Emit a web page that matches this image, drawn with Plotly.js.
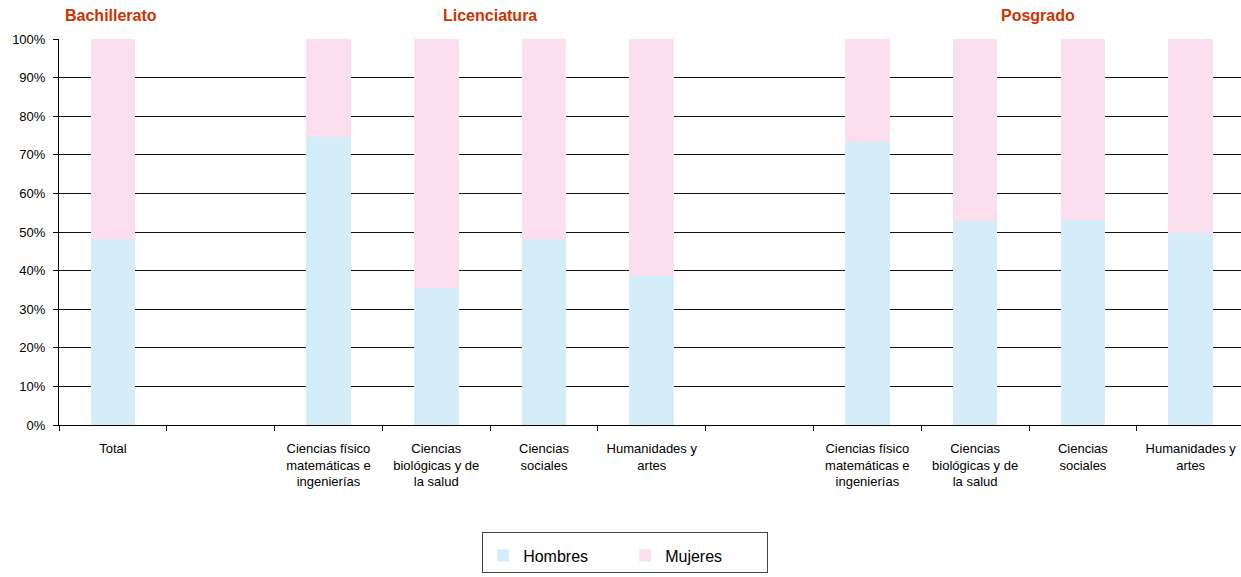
<!DOCTYPE html>
<html>
<head>
<meta charset="utf-8">
<script src="https://cdn.plot.ly/plotly-3.0.1.min.js"></script>
<style>html,body{margin:0;padding:0;background:#fff;}#chart{width:1241px;height:577px;}</style>
</head>
<body>
<div id="chart"></div>
<script>
var categoryIds = ['tot', 'gap1', 'lic_cfm', 'lic_cb', 'lic_cs', 'lic_ha', 'gap2', 'pos_cfm', 'pos_cb', 'pos_cs', 'pos_ha'];
var tickLabels = [
  'Total', '',
  'Ciencias físico<br>matemáticas e<br>ingenierías',
  'Ciencias<br>biológicas y de<br>la salud',
  'Ciencias<br>sociales',
  'Humanidades y<br>artes',
  '',
  'Ciencias físico<br>matemáticas e<br>ingenierías',
  'Ciencias<br>biológicas y de<br>la salud',
  'Ciencias<br>sociales',
  'Humanidades y<br>artes'
];
var hombres = [48.1, null, 74.5, 35.5, 48.3, 38.7, null, 73.3, 52.9, 53.1, 49.8];
var mujeres = [51.9, null, 25.5, 64.5, 51.7, 61.3, null, 26.7, 47.1, 46.9, 50.2];
var groupTitles = ['Bachillerato', 'Licenciatura', 'Posgrado'];
var groupTitlePos = [-0.02, 3.5, 8.58];

var traces = [
  {type: 'bar', name: 'Hombres', x: categoryIds, y: hombres, marker: {color: '#D5EDF9'}, hoverinfo: 'y+name'},
  {type: 'bar', name: 'Mujeres', x: categoryIds, y: mujeres, marker: {color: '#FCDFEE'}, hoverinfo: 'y+name'}
];

var annotations = groupTitles.map(function (t, i) {
  return {
    text: '<b>' + t + '</b>', x: groupTitlePos[i], xref: 'x', y: 1, yref: 'paper',
    yshift: 24, yanchor: 'middle', xanchor: 'center', showarrow: false,
    font: {family: 'Liberation Sans, Arial, sans-serif', size: 16, color: '#CC3300'}
  };
});

var layout = {
  width: 1241, height: 577,
  margin: {l: 58.7, r: 0, t: 38.7, b: 151.5, pad: 0},
  paper_bgcolor: '#fff', plot_bgcolor: '#fff',
  barmode: 'stack', bargap: 0.585,
  font: {family: 'Liberation Sans, Arial, sans-serif', color: '#000', size: 13},
  showlegend: true,
  legend: {
    orientation: 'h', x: 0.358, xanchor: 'left', y: -0.278, yanchor: 'top',
    bordercolor: '#444', borderwidth: 1, bgcolor: '#fff',
    font: {size: 16, family: 'Liberation Sans, Arial, sans-serif'},
    title: {text: ' ', side: 'top', font: {size: 4}},
    entrywidth: 97, entrywidthmode: 'pixels', traceorder: 'normal'
  },
  xaxis: {
    type: 'category', categoryorder: 'array', categoryarray: categoryIds,
    tickmode: 'array', tickvals: categoryIds, ticktext: tickLabels,
    tickson: 'boundaries', ticks: 'outside', ticklen: 5, tickcolor: '#000', tickwidth: 1,
    range: [-0.5, 10.467], showgrid: false, zeroline: false,
    showline: true, linecolor: '#000', linewidth: 1,
    tickfont: {size: 13}, tickangle: 0, ticklabelstandoff: 11,
    fixedrange: true
  },
  yaxis: {
    range: [0, 100], tickvals: [0,10,20,30,40,50,60,70,80,90,100],
    ticktext: ['0%','10%','20%','30%','40%','50%','60%','70%','80%','90%','100%'],
    ticks: 'outside', ticklen: 5, tickcolor: '#000',
    showgrid: true, gridcolor: '#111', gridwidth: 1, zeroline: false,
    showline: true, linecolor: '#000', linewidth: 1,
    tickfont: {size: 13}, ticklabelstandoff: 5, fixedrange: true
  },
  annotations: annotations
};

Plotly.newPlot('chart', traces, layout, {displayModeBar: false, staticPlot: true});
</script>
</body>
</html>
